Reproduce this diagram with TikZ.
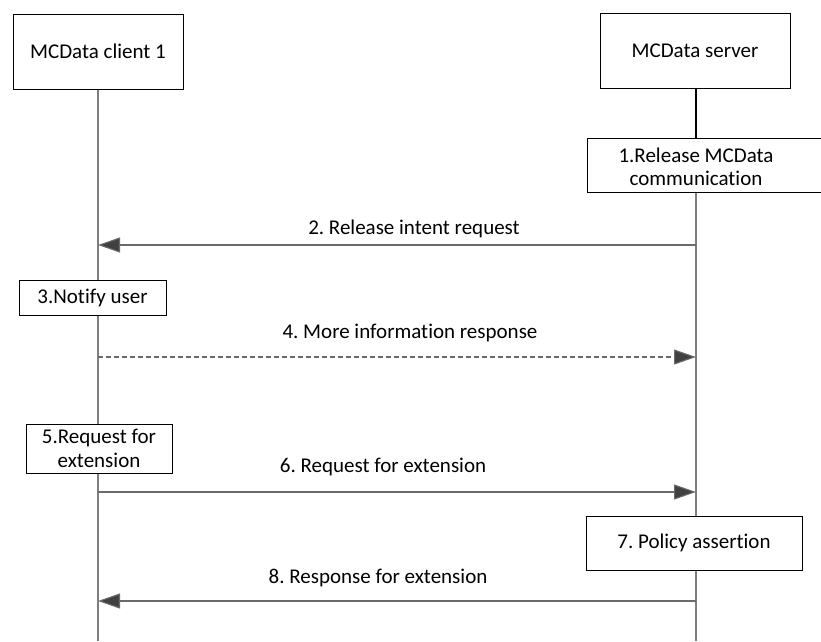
\documentclass[tikz,border=0pt]{standalone}
\usepackage{fontspec}
\setmainfont[Ligatures=NoCommon]{Carlito}
\frenchspacing
\usetikzlibrary{arrows.meta}
\definecolor{lifegray}{HTML}{7F7F7F}
\definecolor{msggray}{HTML}{6A6A6A}
\definecolor{tipgray}{HTML}{404040}
\begin{document}
\begin{tikzpicture}[x=1pt,y=-1pt,
  every node/.style={font=\fontsize{21}{23.5}\selectfont, inner sep=0pt},
  box/.style={draw=black, line width=1pt, fill=white, align=center},
  life/.style={draw=lifegray, line width=1.4pt},
  msg/.style={draw=msggray, line width=1.1pt, -{Triangle[length=22pt,width=15pt,fill=tipgray]}, shorten >=0pt},
  msgdash/.style={msg, dash pattern=on 5pt off 3pt},
  lbl/.style={text=black}]
\useasboundingbox (0,0) rectangle (821,641);
\fill[white] (0,0) rectangle (821,641);
% actors
\node[box, minimum width=170pt, minimum height=75pt] (c) at (98,51.5) {MCData client 1};
\node[box, minimum width=190pt, minimum height=75pt] (s) at (695,50.5) {MCData server};
% lifeline coordinates
\coordinate (cend) at (98,641);
\coordinate (s1top) at (696,88);
\coordinate (s1bot) at (696,138);
\coordinate (s2top) at (696,192);
\coordinate (send) at (696,641);
\draw[life] (c.south) -- (cend);
\draw[black, line width=2.6pt] (s1top) -- (s1bot);
\draw[life] (s2top) -- (send);
% boxes
\node[box, minimum width=246pt, minimum height=54pt] (b1) at (710,165) {};
\node[align=center] (b1t) at (696,167) {1.Release MCData\\communication};
\node[box, minimum width=147pt, minimum height=35pt] (b3) at (92.5,297.5) {3.Notify user};
\node[box, minimum width=146pt, minimum height=49pt] (b5) at (99,448.5) {5.Request for\\extension};
\node[box, minimum width=216pt, minimum height=54pt] (b7) at (694,543) {7. Policy assertion};
% message coordinates
\coordinate (m2s) at (696,245); \coordinate (m2c) at (98,245);
\coordinate (m4c) at (98,357); \coordinate (m4s) at (696,357);
\coordinate (m6c) at (98,492); \coordinate (m6s) at (696,492);
\coordinate (m8s) at (696,601); \coordinate (m8c) at (98,601);
\draw[msg] (m2s) -- (m2c);
\draw[msgdash] (m4c) -- (m4s);
\draw[msg] (m6c) -- (m6s);
\draw[msg] (m8s) -- (m8c);
% labels
\node[lbl] (l2) at (414,229) {2. Release intent request};
\node[lbl] (l4) at (410,333) {4. More information response};
\node[lbl] (l6) at (383,467) {6. Request for extension};
\node[lbl] (l8) at (378,578) {8. Response for extension};
\end{tikzpicture}
\end{document}
